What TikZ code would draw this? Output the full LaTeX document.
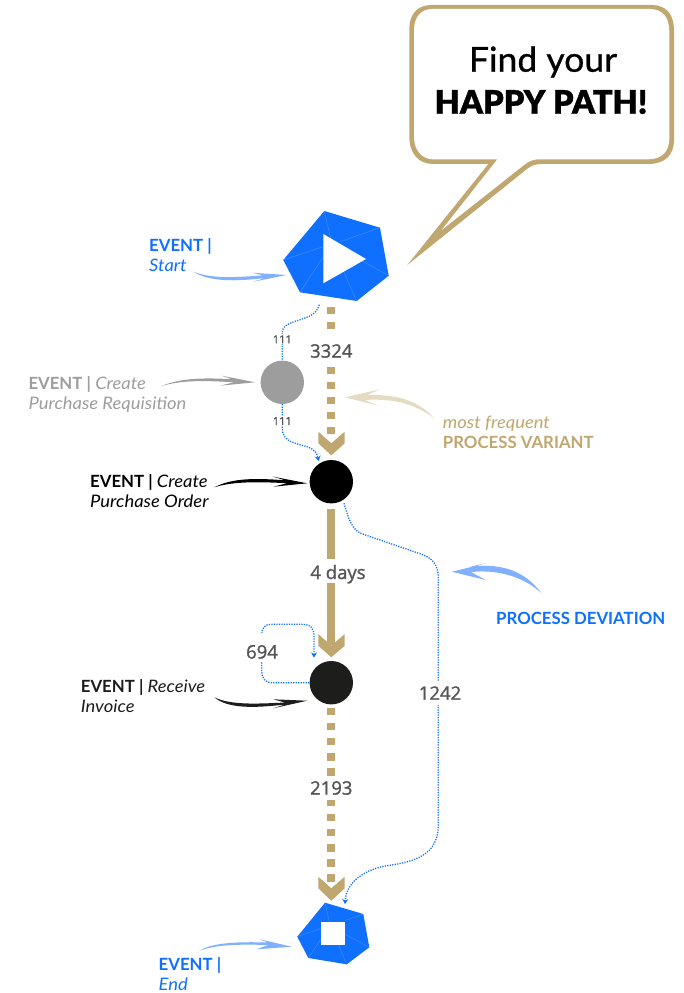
\documentclass[tikz,border=0pt]{standalone}
\usepackage{fontspec}
\usetikzlibrary{arrows.meta}
\setmainfont{Lato}
\newfontfamily\numfont[FakeBold=1.3]{Open Sans}
\newfontfamily\findfont[FakeBold=0.8,FakeStretch=1.03]{Lato}
\newfontfamily\happyfont[FakeBold=0.9]{Lato Black}
\newfontfamily\labelit[FakeStretch=1.07]{Lato Italic}
\newcommand{\evit}[1]{{\labelit\fontsize{17.2}{20}\selectfont #1}}
\definecolor{gold}{HTML}{BFA76F}
\definecolor{goldlight}{HTML}{E5DBC3}
\definecolor{evblue}{HTML}{0F6FFF}
\definecolor{swblue}{HTML}{80B0FF}
\definecolor{facet}{HTML}{3A88FF}
\definecolor{evgray}{HTML}{9D9D9D}
\definecolor{numgray}{HTML}{555555}
\definecolor{evdark}{HTML}{1D1D1B}
\tikzset{
  evcircle/.style={circle,minimum size=43.4pt,inner sep=0pt,fill=#1},
  anchorbox/.style={minimum width=#1,inner sep=0pt},
  goldpath/.style={gold,line width=8pt},
  golddash/.style={goldpath,dash pattern=on 7.5pt off 7.5pt},
  dotflow/.style={evblue,line width=1.3pt,dash pattern=on 1.2pt off 1.3pt},
  flowtip/.style={-{Stealth[length=5pt,width=6pt]}},
  numlabel/.style={fill=white,inner sep=1pt,text=numgray,font=\numfont\fontsize{#1}{#1}\selectfont},
  bignum/.style={numlabel=18.5,minimum height=#1},
  evlabel/.style={anchor=base west,inner sep=0pt,align=left,text=#1,font=\fontsize{16.8}{20}\selectfont},
  facetline/.style={facet,line width=.6pt},
}
\begin{document}
\begin{tikzpicture}[x=1pt,y=-1pt]
\useasboundingbox (0,0) rectangle (683,993);
% callout
\begin{scope}[xshift=400pt,x=.33333pt,y=-.33333pt]
\fill[gold] (95,15) -- (755,15) .. controls (800,15) and (822,45) .. (822,90) -- (822,420) .. controls (822,465) and (795,492) .. (745,492) -- (425,492) .. controls (405,492) and (395,497) .. (382,506) -- (22,795) -- (265,492) -- (100,492) .. controls (55,492) and (28,460) .. (28,410) -- (28,85) .. controls (28,40) and (55,15) .. (95,15) -- cycle;
\fill[white] (95,27) -- (750,27) .. controls (790,27) and (808,55) .. (808,95) -- (808,415) .. controls (808,455) and (785,478) .. (745,478) -- (420,478) .. controls (395,478) and (385,485) .. (372,495) -- (125,690) -- (292,478) -- (100,478) .. controls (65,478) and (42,450) .. (42,410) -- (42,90) .. controls (42,50) and (65,27) .. (95,27) -- cycle;
\end{scope}
\node[inner sep=0pt,font=\findfont\fontsize{34.5}{34.5}\selectfont] (find) at (543,62) {Find your};
\node[inner sep=0pt,font=\happyfont\fontsize{32.5}{32.5}\selectfont] (happy) at (541,102) {HAPPY PATH!};
% event nodes
\node[anchorbox=105pt,minimum height=95.7pt] (startev) at (331.3,258.85) {};
\node[evcircle=evgray] (reqev) at (282.3,382.3) {};
\node[evcircle=black] (poev) at (331.3,481.7) {};
\node[evcircle=evdark] (invev) at (331.3,682.7) {};
\node[anchorbox=72pt,minimum height=61.6pt] (endev) at (331.3,933.5) {};
\coordinate (startdot) at (319.3,304.7);
\coordinate (poin) at (318.6,461);
\coordinate (poout) at (344,503.3);
\coordinate (endin) at (345,904);
\coordinate (invin) at (314,657.5);
% start polygon
\fill[evblue] (324.3,211) -- (380,227.7) -- (388.7,275.7) -- (356.7,301) -- (300,292.3) -- (283.3,260) -- cycle;
\draw[facetline] (324.3,211) -- (331,240) (380,227.7) -- (340,241.7) (388.7,275.7) -- (361.7,260.7) (356.7,301) -- (343,270) (300,292.3) -- (323.3,256.7) (283.3,260) -- (323.3,246.7);
\fill[white] (323.3,234) -- (366,259) -- (323.3,283.3) -- cycle;
% end polygon
\fill[evblue] (325,902.7) -- (363.3,914) -- (369.3,947.3) -- (346.7,964.3) -- (308.3,958) -- (297.3,936.7) -- cycle;
\draw[facetline] (325,902.7) -- (329.3,921.7) (363.3,914) -- (344.7,920.7) (369.3,947.3) -- (344.7,934) (346.7,964.3) -- (338.7,945.3) (308.3,958) -- (321.3,938.7) (297.3,936.7) -- (321.3,928.3);
\fill[white] (321.3,921.7) rectangle (344.7,945.3);
% gold connectors
\draw[golddash,shorten >=25.6pt] (startev.south) -- (poev.north);
\draw[goldpath,shorten <=4.9pt,shorten >=16pt] (poev.south) -- (invev.north);
\draw[goldpath,dash pattern=on 7.5pt off 7.68pt,shorten <=2.9pt,shorten >=21pt] (invev.south) -- (endev.north);
\fill[gold] (318.3,431.7) -- (331.3,443.3) -- (344.7,431.7) -- (344.7,443.3) -- (331.3,455.3) -- (318.3,443.3) -- cycle;
\fill[gold] (318.3,634) -- (331.3,645.7) -- (344.7,634) -- (344.7,645.7) -- (331.3,657.3) -- (318.3,645.7) -- cycle;
\fill[gold] (318.3,876.7) -- (331.3,888.3) -- (344.7,876.7) -- (344.7,888.3) -- (331.3,900.7) -- (318.3,888.3) -- cycle;
% dotted connectors
\draw[dotflow] (startdot) .. controls (316,314) and (312,316) .. (296,321) .. controls (288,324) and (282.3,326) .. (282.3,332) -- (reqev.north);
\draw[dotflow,flowtip] (reqev.south) -- (282.3,428.3) .. controls (282.3,442) and (295,443) .. (308,447) .. controls (315,450) and (317,453) .. (poin);
\draw[dotflow,flowtip] (poout) .. controls (349,520) and (352,531) .. (364,534.5) -- (418,553) .. controls (431,557) and (438.3,563) .. (438.3,578) -- (438.3,825) .. controls (438.3,855) and (415,862) .. (385,866) .. controls (360,871) and (346,885) .. (endin);
\draw[dotflow,flowtip] (invev.west) -- (272,682.7) .. controls (265,682.7) and (261.7,678) .. (261.7,671) -- (261.7,634) .. controls (261.7,628) and (265,624.3) .. (271,624.3) -- (303,624.3) .. controls (310,624.3) and (314,628) .. (314,635) -- (invin);
% numbers
\node[numlabel=11] (n111a) at (282.3,339.3) {111};
\node[numlabel=11] (n111b) at (282.3,421) {111};
\node[bignum=30pt] (n3324) at (331.3,351) {3324};
\node[bignum=24.5pt] (n4days) at (338,571) {\smash{\raisebox{-8pt}{4 days}}};
\node[bignum=29pt] (n694) at (262,647.5) {\smash{\raisebox{-11pt}{694}}};
\node[bignum=24pt] (n1242) at (440,693) {1242};
\node[bignum=24pt] (n2193) at (331.3,788) {2193};
% swooshes
\fill[swblue] (193.3,271.7) .. controls (212,279) and (235,277.5) .. (263,275.3) -- (251.7,272.7) -- (286.7,275) -- (253.3,281.7) -- (265,278) .. controls (235,281.5) and (210,282) .. cycle;
\fill[evgray] (161.7,386) .. controls (180,378) and (205,377.5) .. (232,379.3) -- (221.7,375.7) -- (255,382.3) -- (220,385.7) -- (234,382.3) .. controls (205,380.5) and (182,380) .. cycle;
\fill[black] (214.3,487.3) .. controls (232,478) and (255,478) .. (285,480.3) -- (273.3,476.7) -- (307.3,483.3) -- (273.3,486.7) -- (287,483.3) .. controls (258,481.5) and (232,481.5) .. cycle;
\fill[evdark] (214.3,697.3) .. controls (230,705) and (255,704) .. (285,702.5) -- (273.3,699.3) -- (307.3,700.7) -- (273.3,708.3) -- (285,704.5) .. controls (255,708) and (228,709) .. cycle;
\fill[swblue] (199.3,950.7) .. controls (212,943) and (235,941.5) .. (268,942.5) -- (260,939.3) -- (291.7,946.7) -- (256.7,949.3) -- (268,945) .. controls (235,944) and (215,945) .. cycle;
\fill[goldlight] (435,419.3) .. controls (420,402) and (400,394) .. (367,395) -- (380,389.3) -- (345,397.3) -- (378.3,405.7) -- (365,400) .. controls (395,398) and (418,405) .. cycle;
\fill[swblue] (541.7,593.3) .. controls (525,572) and (505,563) .. (470,566.5) -- (486.7,563.3) -- (451.7,571.7) -- (485.7,580) -- (471,572) .. controls (500,569) and (525,578) .. cycle;
% labels (base anchor sits on the last line)
\node[evlabel=evblue] (lstart) at (149,271.7) {\textbf{EVENT |}\\\evit{Start}};
\node[evlabel=evgray] (lreq) at (28.3,409) {\textbf{EVENT |} \evit{Create}\\\evit{Purchase Requisition}};
\node[evlabel=black] (lpo) at (90,507.7) {\textbf{EVENT |} \evit{Create}\\\evit{Purchase Order}};
\node[evlabel=evdark] (linv) at (80.7,712.3) {\textbf{EVENT |} \evit{Receive}\\\evit{Invoice}};
\node[evlabel=evblue] (lend) at (158.5,990.3) {\textbf{EVENT |}\\\evit{End}};
\node[evlabel=gold] (lvar) at (442.7,448.3) {\evit{most frequent}\\\textbf{PROCESS VARIANT}};
\node[evlabel=evblue] (ldev) at (496,624.3) {\textbf{PROCESS DEVIATION}};
\end{tikzpicture}
\end{document}
